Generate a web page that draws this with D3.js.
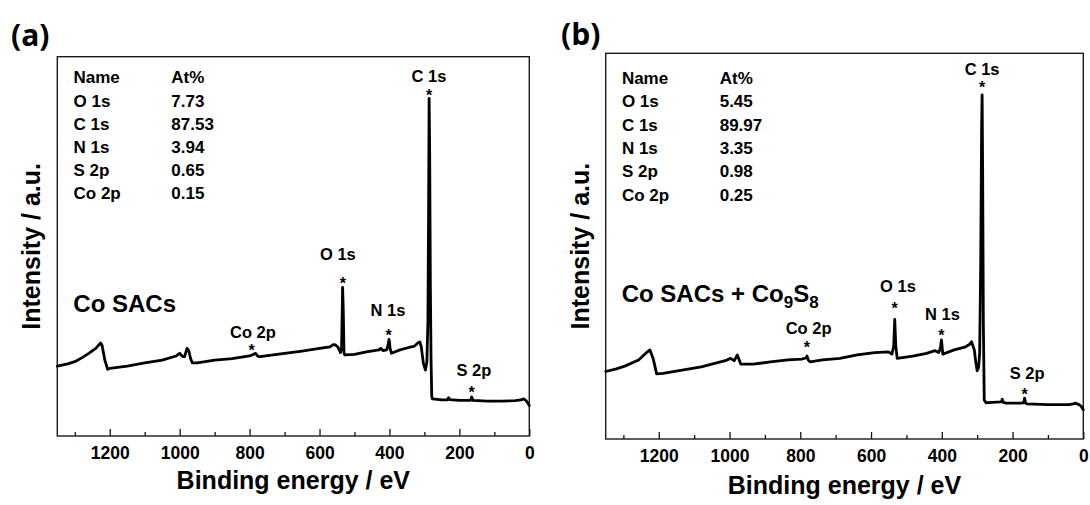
<!DOCTYPE html>
<html>
<head>
<meta charset="utf-8">
<script src="https://cdn.jsdelivr.net/npm/d3@7"></script>
<style>
  html, body { margin: 0; padding: 0; background: #fff; }
  svg { display: block; }
  text { font-family: "Liberation Sans", Arial, sans-serif; font-weight: bold; fill: #000; }
</style>
</head>
<body>
<svg id="chart" width="1090" height="505"></svg>
<script>
// ---- XPS survey spectra (binding energy in eV, intensity in a.u.) ----
const energyA = [1350,1320,1300,1280,1260,1240,1226,1222,1214,1206,1200,1150,1100,1050,1010,1000,992,986,979,974,969,964,950,900,850,800,790,783,776,770,700,650,600,570,561,554,547,540,537,535,534,532,530,528,500,466,430,425,418,408,404,401,398,394,370,342,330,318,313,309,303,297,293,290,288,286.5,285,283,281,279,277,250,234,231,227,200,168,165,161,120,80,40,24,16,10,5,0];
const intensityA = [18.4,19.0,19.6,20.6,21.8,23.1,24.5,23.9,20.0,17.6,17.8,18.4,19.3,20.0,21.1,21.8,21.0,20.9,23.1,22.5,20.5,19.3,19.3,20.0,20.4,21.1,21.5,21.8,21.0,20.9,21.8,22.4,23.1,23.5,24.1,24.0,23.4,22.0,23.0,33.0,39.2,33.0,22.0,21.4,21.5,22.2,22.7,23.1,22.5,22.7,24.0,25.5,23.0,21.8,22.7,23.4,23.6,24.6,24.8,23.5,19.2,17.4,19.5,30.0,60.0,89.0,75.0,40.0,20.0,10.5,9.8,9.5,9.5,10.1,9.6,9.4,9.4,10.3,9.4,9.2,9.2,9.3,9.5,9.8,9.4,8.8,8.0];

const energyB = [1350,1320,1296,1257,1232,1225,1216,1206,1188,1130,1080,1012,997,987,978,968,933,884,835,796,784,781,777,772,737,688,639,590,551,541,536,533,530,526,482,443,419,409,404,401,397,365,335,322,316,308,304,300,296,293,290,287.5,286,284.5,282.5,280,275,257,232,229,226,218,178,168,166,163,159,100,41,28,23,12,6,0];
const intensityB = [17.5,18.2,18.9,20.5,22.6,23.1,20.9,16.9,17.0,17.9,18.7,20.3,20.9,20.3,21.8,19.4,19.4,20.0,20.5,20.7,21.0,21.5,20.4,20.0,20.5,20.9,21.8,22.4,22.6,22.0,24.0,31.0,24.0,20.9,21.5,22.2,22.9,22.4,23.5,25.7,22.0,23.1,23.8,24.5,25.2,23.1,20.0,17.7,18.5,22.2,45.0,80.0,89.2,70.0,30.0,10.1,9.4,9.5,9.6,10.3,9.5,9.3,9.3,9.4,10.6,9.3,9.1,8.9,8.9,9.1,9.3,8.9,8.5,7.6];

// ---- peak assignments: star energy, star level, label energy, label level ----
const peakNames   = ["C 1s", "O 1s", "N 1s", "Co 2p", "S 2p"];
const starEnergyA = [286.3, 533.4, 402.2, 794.4, 165.2];
const starLevelA  = [90.9, 41.1, 27.5, 23.5, 12.6];
const labelEnergyA = [287.0, 547.4, 404.0, 790.5, 158.3];
const labelLevelA = [93.4, 46.4, 31.6, 25.8, 15.8];

const starEnergyB = [286.0, 533.4, 401.0, 781.3, 165.6];
const starLevelB  = [92.0, 34.7, 27.7, 24.8, 12.5];
const labelEnergyB = [286.0, 523.8, 398.0, 776.5, 158.9];
const labelLevelB = [94.4, 38.1, 30.9, 27.2, 15.6];

// ---- surface composition tables ----
const tableHeader = ["Name", "At%"];
const tableNames  = ["O 1s", "C 1s", "N 1s", "S 2p", "Co 2p"];
const atPercentA  = ["7.73", "87.53", "3.94", "0.65", "0.15"];
const atPercentB  = ["5.45", "89.97", "3.35", "0.98", "0.25"];

// ---- axis ticks ----
const majorTicks = [0, 200, 400, 600, 800, 1000, 1200];
const minorTicks = [100, 300, 500, 700, 900, 1100, 1300];
const energyDomain = [1350, 0];
const intensityDomain = [0, 100];

const svg = d3.select("#chart");

function drawPanel(cfg) {
  const g = svg.append("g");
  const x = d3.scaleLinear().domain(energyDomain).range([cfg.left, cfg.right]);
  const y = d3.scaleLinear().domain(intensityDomain).range([cfg.bottom, cfg.top]);

  // panel letter
  g.append("text")
    .attr("x", cfg.titleX).attr("y", cfg.titleY)
    .style("font-family", "'Open Sans', sans-serif")
    .style("font-weight", "700")
    .style("font-size", "30px")
    .text(cfg.title);

  // minor ticks (inward, unlabeled)
  g.append("g")
    .attr("transform", `translate(0,${cfg.bottom})`)
    .call(d3.axisBottom(x).tickValues(minorTicks).tickSize(-4).tickFormat(""))
    .call(a => a.select(".domain").remove())
    .call(a => a.selectAll("line").attr("stroke", "#111").attr("stroke-width", 1.3));

  // major ticks with labels
  g.append("g")
    .attr("transform", `translate(0,${cfg.bottom})`)
    .call(d3.axisBottom(x).tickValues(majorTicks).tickSize(-7).tickPadding(11).tickFormat(d3.format("d")))
    .call(a => a.select(".domain").remove())
    .call(a => a.selectAll("line").attr("stroke", "#111").attr("stroke-width", 1.3))
    .call(a => a.selectAll("text")
      .style("font-family", "'Liberation Sans', Arial, sans-serif")
      .style("font-weight", "bold")
      .style("font-size", "17.5px")
      .attr("fill", "#000"));

  // frame
  g.append("rect")
    .attr("x", cfg.left).attr("y", cfg.top)
    .attr("width", cfg.right - cfg.left).attr("height", cfg.bottom - cfg.top)
    .attr("fill", "none").attr("stroke", "#1a1a1a").attr("stroke-width", 1.4);

  // axis titles
  g.append("text")
    .attr("x", (cfg.left + cfg.right) / 2).attr("y", cfg.xLabelY)
    .attr("text-anchor", "middle")
    .style("font-size", "25px")
    .text("Binding energy / eV");

  g.append("text")
    .attr("transform", `translate(${cfg.yLabelX},${(cfg.top + cfg.bottom) / 2}) rotate(-90)`)
    .attr("text-anchor", "middle")
    .style("font-size", "25px")
    .text("Intensity / a.u.");

  // spectrum
  const pts = cfg.energy.map((e, i) => [e, cfg.intensity[i]]);
  g.append("path")
    .datum(pts)
    .attr("fill", "none")
    .attr("stroke", "#000")
    .attr("stroke-width", 2.8)
    .attr("stroke-linejoin", "round")
    .attr("stroke-linecap", "round")
    .attr("d", d3.line().x(d => x(d[0])).y(d => y(d[1])));

  // peak stars and labels
  peakNames.forEach((name, i) => {
    g.append("text")
      .attr("x", x(cfg.starEnergy[i]))
      .attr("y", y(cfg.starLevel[i]) + 9.3)
      .attr("text-anchor", "middle")
      .style("font-size", "16px")
      .text("*");
    g.append("text")
      .attr("x", x(cfg.labelEnergy[i]))
      .attr("y", y(cfg.labelLevel[i]))
      .attr("text-anchor", "middle")
      .style("font-size", "16.5px")
      .text(name);
  });

  // composition table
  const rows = [tableHeader].concat(tableNames.map((n, i) => [n, cfg.atPercent[i]]));
  rows.forEach((r, i) => {
    const yy = cfg.tableY + i * cfg.rowStep;
    g.append("text").attr("x", cfg.left + 16.2).attr("y", yy).style("font-size", "17px").text(r[0]);
    g.append("text").attr("x", cfg.left + 114).attr("y", yy).style("font-size", "17px").text(r[1]);
  });

  // sample name
  const s = g.append("text")
    .attr("x", cfg.left + 16).attr("y", cfg.sampleY)
    .style("font-size", "24px");
  cfg.sample(s);
}

drawPanel({
  title: "(a)", titleX: 11, titleY: 46,
  left: 57.3, right: 529.3, top: 56.7, bottom: 436,
  xLabelY: 488.5, yLabelX: 40,
  energy: energyA, intensity: intensityA,
  starEnergy: starEnergyA, starLevel: starLevelA,
  labelEnergy: labelEnergyA, labelLevel: labelLevelA,
  atPercent: atPercentA, tableY: 83.3, rowStep: 23.2,
  sampleY: 311.7,
  sample: t => t.text("Co SACs")
});

drawPanel({
  title: "(b)", titleX: 561, titleY: 44.5,
  left: 605.7, right: 1083.3, top: 53.3, bottom: 439,
  xLabelY: 494, yLabelX: 589,
  energy: energyB, intensity: intensityB,
  starEnergy: starEnergyB, starLevel: starLevelB,
  labelEnergy: labelEnergyB, labelLevel: labelLevelB,
  atPercent: atPercentB, tableY: 84, rowStep: 23.3,
  sampleY: 301.5,
  sample: t => {
    t.append("tspan").text("Co SACs + Co");
    t.append("tspan").attr("dy", 6).style("font-size", "17px").text("9");
    t.append("tspan").attr("dy", -6).text("S");
    t.append("tspan").attr("dy", 6).style("font-size", "17px").text("8");
  }
});
</script>
</body>
</html>
